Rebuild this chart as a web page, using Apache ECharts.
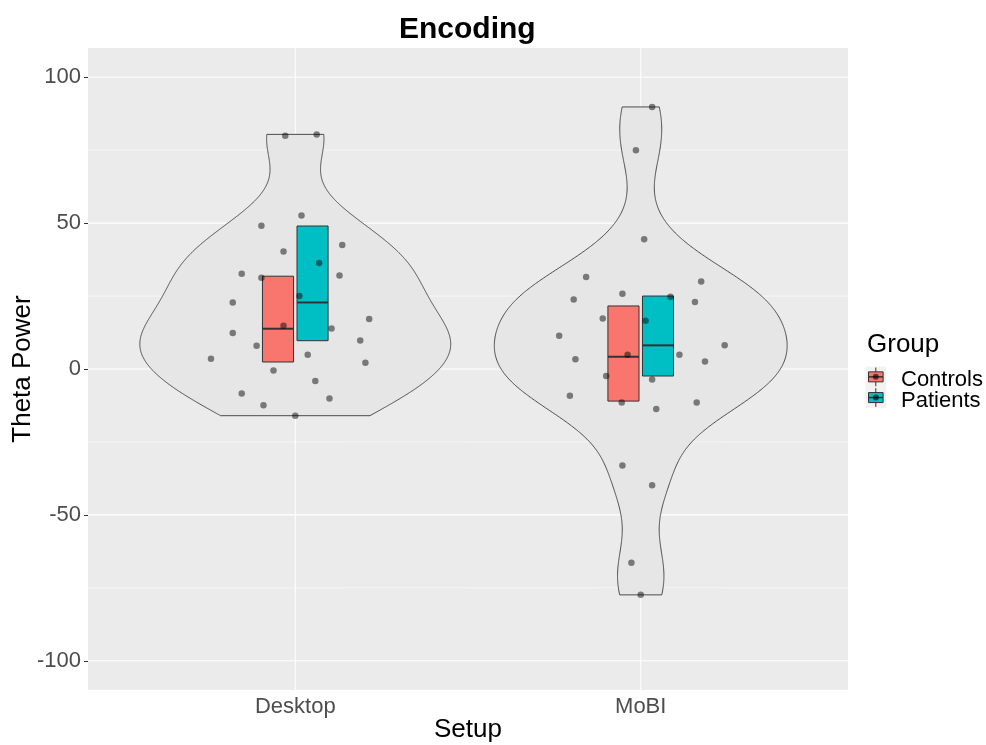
<!DOCTYPE html>
<html><head><meta charset="utf-8">
<script src="https://cdn.jsdelivr.net/npm/echarts@6/dist/echarts.min.js"></script>
<style>html,body{margin:0;padding:0;background:#fff}#c{width:986px;height:745px}</style>
</head><body><div id="c"></div>
<script>
const setups = ['Desktop', 'MoBI'];
const groups = ['Controls', 'Patients'];
const groupColors = ['#F8766D', '#00BFC4'];
const yTicks = [-100, -50, 0, 50, 100];
const yMinor = [-75, -25, 25, 75];

const desktopValues = [79.9, 80.4, 52.6, 49.1, 42.5, 40.3, 36.3, 32.6, 31.3, 32.0, 25.0, 22.8, 17.1, 14.8, 13.9, 12.3, 9.8, 8.0, 4.9, 3.5, 2.1, -0.5, -4.1, -8.4, -10.1, -12.4, -16.0];
const desktopJitter = [-0.029, 0.062, 0.018, -0.098, 0.136, -0.034, 0.069, -0.155, -0.098, 0.128, 0.012, -0.181, 0.214, -0.034, 0.105, -0.181, 0.188, -0.112, 0.036, -0.244, 0.203, -0.063, 0.058, -0.155, 0.099, -0.092, 0.000];
const mobiValues = [89.8, 75.0, 44.5, 31.5, 30.0, 25.8, 23.8, 24.8, 23.0, 17.3, 16.5, 11.4, 8.1, 4.9, 4.9, 3.3, 2.6, -2.4, -3.6, -9.2, -11.5, -11.5, -13.7, -33.1, -39.8, -66.4, -77.4];
const mobiJitter = [0.033, -0.014, 0.010, -0.158, 0.175, -0.053, -0.194, 0.086, 0.157, -0.110, 0.014, -0.236, 0.243, -0.038, 0.112, -0.189, 0.186, -0.100, 0.033, -0.205, -0.055, 0.162, 0.045, -0.053, 0.033, -0.027, 0.000];

// box stats per setup: [lower hinge, median, upper hinge]
const controlsBox = [[2.4, 13.8, 31.8], [-11.0, 4.2, 21.6]];
const patientsBox = [[9.7, 22.8, 49.0], [-2.4, 8.1, 25.0]];

const FONT = '"Liberation Sans", Arial, sans-serif';

function quantile(sorted, p) {
  const h = (sorted.length - 1) * p, lo = Math.floor(h);
  const hi = Math.min(lo + 1, sorted.length - 1);
  return sorted[lo] + (h - lo) * (sorted[hi] - sorted[lo]);
}
function kde(vals) {
  const n = vals.length, s = [...vals].sort((a, b) => a - b);
  const mean = vals.reduce((a, b) => a + b, 0) / n;
  const sd = Math.sqrt(vals.reduce((a, b) => a + (b - mean) * (b - mean), 0) / (n - 1));
  const iqr = quantile(s, 0.75) - quantile(s, 0.25);
  const bw = 0.9 * Math.min(sd, iqr / 1.34) * Math.pow(n, -0.2);
  const lo = s[0], hi = s[n - 1], out = [];
  for (let i = 0; i < 512; i++) {
    const y = lo + (hi - lo) * i / 511;
    let d = 0;
    for (const v of vals) { const z = (y - v) / bw; d += Math.exp(-0.5 * z * z); }
    out.push([y, d / (n * bw * Math.sqrt(2 * Math.PI))]);
  }
  return out;
}
const violins = [kde(desktopValues), kde(mobiValues)];
const maxDens = Math.max(...violins.map(v => Math.max(...v.map(p => p[1]))));

const gridData = [];
yTicks.forEach(v => gridData.push([v, 0, 1]));
yMinor.forEach(v => gridData.push([v, 0, 0]));
setups.forEach((s, i) => gridData.push([i + 1, 1, 1]));

const boxData = [];
setups.forEach((s, i) => {
  boxData.push([i + 1 - 0.05, ...controlsBox[i], 0]);
  boxData.push([i + 1 + 0.05, ...patientsBox[i], 1]);
});

const pointData = [];
desktopValues.forEach((v, i) => pointData.push([1 + desktopJitter[i], v]));
mobiValues.forEach((v, i) => pointData.push([2 + mobiJitter[i], v]));

const chart = echarts.init(document.getElementById('c'));

// legend graphics
const legendG = [
  { type: 'text', left: 867, top: 332, style: { text: 'Group', font: '26px ' + FONT, fill: '#000' } }
];
groups.forEach((g, i) => {
  const ky = 366.5 + i * 20.7, kc = ky + 10.35;
  legendG.push({ type: 'rect', shape: { x: 865.5, y: ky, width: 20.7, height: 20.7 }, style: { fill: '#F2F2F2' } });
  legendG.push({ type: 'line', shape: { x1: 875.8, y1: ky + 1, x2: 875.8, y2: ky + 19.7 }, style: { stroke: '#333', lineWidth: 1 } });
  legendG.push({ type: 'rect', shape: { x: 868.5, y: kc - 5, width: 14.6, height: 10 }, style: { fill: groupColors[i], stroke: '#333', lineWidth: 1 } });
  legendG.push({ type: 'line', shape: { x1: 868.5, y1: kc, x2: 883.1, y2: kc }, style: { stroke: '#333', lineWidth: 1.5 } });
  legendG.push({ type: 'circle', shape: { cx: 875.8, cy: kc, r: 3 }, style: { fill: 'rgba(0,0,0,0.6)' } });
  legendG.push({ type: 'text', left: 901, top: kc - 8, style: { text: g, font: '22px ' + FONT, fill: '#000' } });
});

chart.setOption({
  animation: false,
  backgroundColor: '#fff',
  title: {
    text: 'Encoding', left: 399, top: 15, padding: 0,
    textStyle: { fontFamily: FONT, fontSize: 30, fontWeight: 'bold', color: '#000' }
  },
  grid: { left: 88, right: 138, top: 48, bottom: 55, show: true, backgroundColor: '#EBEBEB', borderWidth: 0,
          outerBoundsMode: 'none', containLabel: false },
  xAxis: {
    type: 'value', min: 0.4, max: 2.6,
    name: 'Setup', nameLocation: 'middle', nameGap: 27, nameMoveOverlap: false,
    nameTextStyle: { fontFamily: FONT, fontSize: 26, color: '#000' },
    axisLine: { show: false },
    axisTick: { show: true, customValues: [1, 2], length: 4, lineStyle: { color: '#333', width: 1 } },
    axisLabel: {
      customValues: [1, 2], margin: 6, fontFamily: FONT, fontSize: 22, color: '#4D4D4D',
      formatter: v => setups[Math.round(v) - 1] || ''
    },
    splitLine: { show: false }
  },
  yAxis: {
    type: 'value', min: -110, max: 110,
    name: 'Theta Power', nameLocation: 'middle', nameGap: 52, nameMoveOverlap: false,
    nameTextStyle: { fontFamily: FONT, fontSize: 26, color: '#000' },
    axisLine: { show: false },
    axisTick: { show: true, customValues: yTicks, length: 4, lineStyle: { color: '#333', width: 1 } },
    axisLabel: { customValues: yTicks, margin: 7, fontFamily: FONT, fontSize: 22, color: '#4D4D4D' },
    splitLine: { show: false }
  },
  graphic: legendG,
  series: [
    {
      type: 'custom', name: 'grid', silent: true, z: 1, data: gridData,
      renderItem(params, api) {
        const cs = params.coordSys, v = api.value(0), o = api.value(1), maj = api.value(2);
        let shape;
        if (o === 0) { const y = api.coord([1, v])[1]; shape = { x1: cs.x, y1: y, x2: cs.x + cs.width, y2: y }; }
        else { const x = api.coord([v, 0])[0]; shape = { x1: x, y1: cs.y, x2: x, y2: cs.y + cs.height }; }
        return { type: 'line', shape, style: { stroke: '#FFFFFF', lineWidth: maj ? 1.1 : 0.55 } };
      }
    },
    {
      type: 'custom', name: 'violin', silent: true, z: 2,
      data: setups.map((s, i) => [i + 1, 0]),
      renderItem(params, api) {
        const idx = params.dataIndex, cx = idx + 1, left = [], right = [];
        for (const [y, d] of violins[idx]) {
          const w = 0.45 * d / maxDens;
          left.push(api.coord([cx - w, y]));
          right.push(api.coord([cx + w, y]));
        }
        return { type: 'polygon', shape: { points: left.concat(right.reverse()) },
          style: { fill: '#E6E6E6', stroke: '#3a3a3a', lineWidth: 0.9 } };
      }
    },
    {
      type: 'custom', name: 'box', silent: true, z: 3, data: boxData,
      renderItem(params, api) {
        const x = api.value(0), q1 = api.value(1), md = api.value(2), q3 = api.value(3), g = api.value(4), hw = 0.045;
        const p1 = api.coord([x - hw, q3]), p2 = api.coord([x + hw, q1]);
        const m1 = api.coord([x - hw, md]), m2 = api.coord([x + hw, md]);
        return { type: 'group', children: [
          { type: 'rect', shape: { x: p1[0], y: p1[1], width: p2[0] - p1[0], height: p2[1] - p1[1] },
            style: { fill: groupColors[g], stroke: '#333', lineWidth: 1 } },
          { type: 'line', shape: { x1: m1[0], y1: m1[1], x2: m2[0], y2: m2[1] }, style: { stroke: '#333', lineWidth: 2 } }
        ] };
      }
    },
    {
      type: 'scatter', name: 'points', silent: true, z: 4, data: pointData,
      symbol: 'circle', symbolSize: 6.5,
      itemStyle: { color: 'rgba(0,0,0,0.6)', borderWidth: 0 }
    }
  ]
});
</script>
</body></html>
